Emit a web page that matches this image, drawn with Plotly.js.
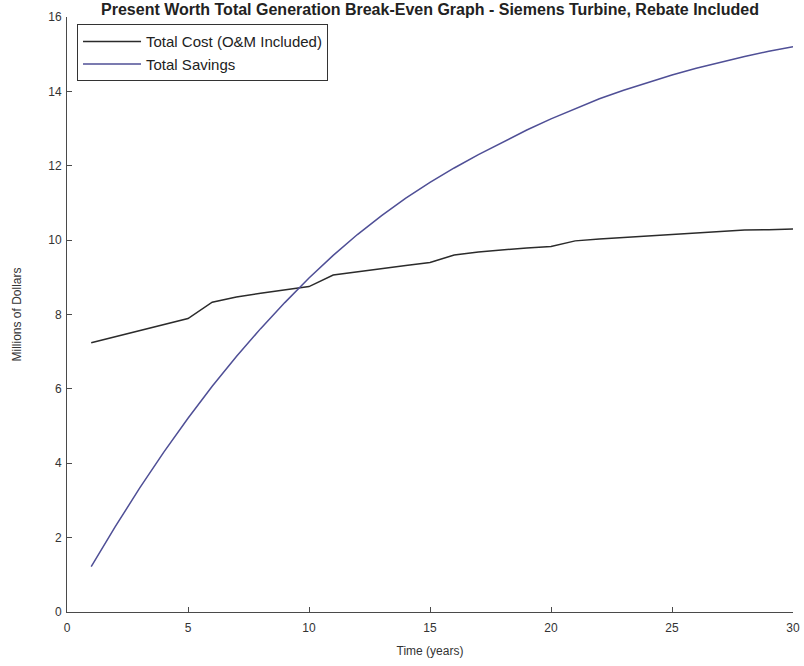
<!DOCTYPE html>
<html>
<head>
<meta charset="utf-8">
<script src="https://cdn.plot.ly/plotly-3.0.1.min.js"></script>
<style>
  html, body { margin: 0; padding: 0; background: #ffffff; }
  #chart { width: 804px; height: 666px; }
</style>
</head>
<body>
<div id="chart"></div>
<script>
// Years
const years = [1,2,3,4,5,6,7,8,9,10,11,12,13,14,15,16,17,18,19,20,21,22,23,24,25,26,27,28,29,30];

// Total Cost (O&M Included), millions of dollars
const totalCost = [7.24,7.40,7.56,7.72,7.89,8.33,8.47,8.57,8.67,8.75,
                   9.06,9.15,9.24,9.32,9.40,9.60,9.68,9.74,9.79,9.83,
                   9.98,10.03,10.07,10.11,10.15,10.21,10.25,10.27,10.28,10.30];

// Total Savings, millions of dollars
const totalSavings = [1.22,2.30,3.33,4.30,5.21,6.07,6.87,7.62,8.32,8.98,
                      9.59,10.15,10.66,11.13,11.55,11.94,12.30,12.64,12.96,13.26,
                      13.54,13.80,14.03,14.24,14.44,14.62,14.79,14.94,15.08,15.20];

const seriesNames = ["Total Cost (O&M Included)", "Total Savings"];
const xTicks = [0,5,10,15,20,25,30];
const yTicks = [0,2,4,6,8,10,12,14,16];
const chartTitle = "Present Worth Total Generation Break-Even Graph - Siemens Turbine, Rebate Included";
const xTitle = "Time (years)";
const yTitle = "Millions of Dollars";

const font = "'Liberation Sans', Arial, Helvetica, sans-serif";

const traces = [
  { x: years, y: totalCost, name: seriesNames[0], type: "scatter", mode: "lines",
    line: { color: "#2b2b2b", width: 1.5 } },
  { x: years, y: totalSavings, name: seriesNames[1], type: "scatter", mode: "lines",
    line: { color: "#4f4f96", width: 1.5 } }
];

const axisCommon = {
  showgrid: false, zeroline: false, showline: true, linecolor: "#4a4a4a", linewidth: 1,
  ticks: "inside", ticklen: 5, tickwidth: 1, tickcolor: "#4a4a4a", mirror: false,
  tickfont: { family: font, size: 12, color: "#333333" }
};

const layout = {
  width: 804, height: 666,
  paper_bgcolor: "#ffffff", plot_bgcolor: "#ffffff",
  margin: { l: 67, r: 11, t: 17, b: 54 },
  font: { family: font, color: "#333333" },
  title: { text: chartTitle, font: { family: font, size: 16, color: "#222222", weight: "bold" },
           x: 0.5, xref: "paper", y: 0.9865, yref: "container", yanchor: "middle" },
  xaxis: Object.assign({}, axisCommon, {
    range: [0, 30], tickvals: xTicks, ticktext: xTicks.map(String),
    ticklabelstandoff: 5,
    title: { text: xTitle, font: { family: font, size: 12, color: "#333333" }, standoff: 12 }
  }),
  yaxis: Object.assign({}, axisCommon, {
    range: [0, 16], tickvals: yTicks, ticktext: yTicks.map(String),
    ticklabelstandoff: 2,
    title: { text: yTitle, font: { family: font, size: 12, color: "#333333" }, standoff: 24 }
  }),
  showlegend: true,
  legend: {
    x: 0.0138, y: 0.988, xanchor: "left", yanchor: "top",
    bgcolor: "#ffffff", bordercolor: "#333333", borderwidth: 1,
    font: { family: font, size: 15, color: "#222222" },
    itemwidth: 58, tracegroupgap: 0,
    entrywidth: 300, entrywidthmode: "pixels"
  }
};

Plotly.newPlot("chart", traces, layout, { displayModeBar: false, staticPlot: true });
</script>
</body>
</html>
